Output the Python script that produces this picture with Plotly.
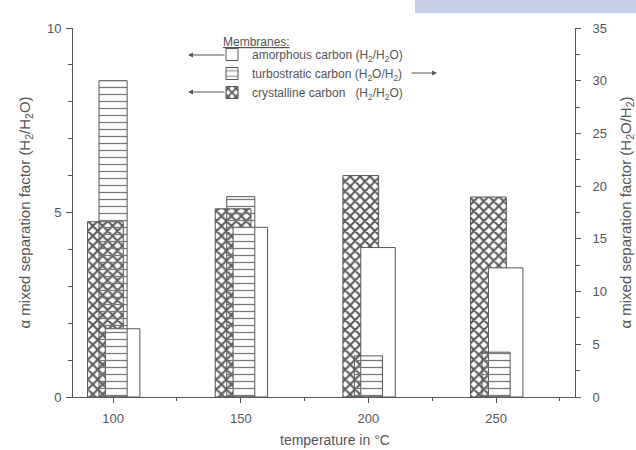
import plotly.graph_objects as go

# ---- data ----
temperatures = [100, 150, 200, 250]
amorphous = [1.85, 4.6, 4.05, 3.5]        # H2/H2O, left axis
turbostratic = [30.0, 19.0, 3.9, 4.25]    # H2O/H2, right axis
crystalline = [4.75, 5.1, 6.0, 5.42]      # H2/H2O, left axis

x_ticks = [100, 150, 200, 250]
x_minor = [125, 175, 225, 275]
left_ticks = [0, 5, 10]
right_ticks = [0, 5, 10, 15, 20, 25, 30, 35]

names = {
    "amorphous": "amorphous carbon (H<sub>2</sub>/H<sub>2</sub>O)",
    "turbostratic": "turbostratic carbon (H<sub>2</sub>O/H<sub>2</sub>)",
    "crystalline": "crystalline carbon   (H<sub>2</sub>/H<sub>2</sub>O)",
}

INK = "#555555"
FONT = "Liberation Sans, Arial, sans-serif"
W, H = 636, 450
L, R, T, B = 73, 61, 28, 53
PW, PH = W - L - R, H - T - B


def px(xp):
    return (xp - L) / PW


def py(yp):
    return (H - B - yp) / PH


fig = go.Figure()

fig.add_trace(go.Bar(
    x=temperatures, y=crystalline, name=names["crystalline"], legendrank=3,
    offset=-10, width=14,
    marker=dict(color="white", line=dict(color=INK, width=1),
                pattern=dict(shape="x", size=7, solidity=0.5, fgcolor="#5a5a5a",
                             bgcolor="white", fillmode="replace")),
    yaxis="y",
))
fig.add_trace(go.Bar(
    x=temperatures, y=amorphous, name=names["amorphous"], legendrank=1,
    offset=-3, width=13.5,
    marker=dict(color="white", line=dict(color=INK, width=1)),
    yaxis="y",
))
fig.add_trace(go.Bar(
    x=temperatures, y=turbostratic, name=names["turbostratic"], legendrank=2,
    offset=-5.5, width=11,
    marker=dict(color="rgba(0,0,0,0)", line=dict(color=INK, width=1),
                pattern=dict(shape="-", size=7, solidity=0.18, fgcolor="#777777",
                             bgcolor="rgba(0,0,0,0)", fillmode="replace")),
    yaxis="y2",
))

axis_common = dict(showgrid=False, zeroline=False, showline=True, linecolor=INK,
                   linewidth=1, ticks="outside", tickcolor=INK,
                   tickfont=dict(family=FONT, size=13, color=INK),
                   automargin=False)

fig.update_layout(
    template="none",
    width=W, height=H,
    margin=dict(l=L, r=R, t=T, b=B, autoexpand=False),
    paper_bgcolor="white", plot_bgcolor="white",
    barmode="overlay",
    font=dict(family=FONT, size=12, color=INK),
    xaxis=dict(range=[84.3, 280.9], tickvals=x_ticks, ticklen=5, ticklabelstandoff=4,
               minor=dict(tickvals=x_minor, ticks="outside", ticklen=3, tickcolor=INK),
               **axis_common),
    yaxis=dict(range=[0, 10], tickvals=left_ticks, ticklen=6, ticklabelstandoff=2,
               minor=dict(dtick=1, ticks="outside", ticklen=4, tickcolor=INK),
               title=dict(text="α mixed separation factor (H<sub>2</sub>/H<sub>2</sub>O)",
                          font=dict(size=15, color=INK), standoff=12),
               **axis_common),
    yaxis2=dict(range=[0, 35], tickvals=right_ticks, overlaying="y", side="right",
                ticklen=5, ticklabelstandoff=9,
                minor=dict(dtick=2.5, ticks="outside", ticklen=4, tickcolor=INK),
                title=dict(text="α mixed separation factor (H<sub>2</sub>O/H<sub>2</sub>)",
                           font=dict(size=15, color=INK), standoff=16),
                **axis_common),
    legend=dict(x=px(212), y=py(40), xanchor="left", yanchor="top",
                bgcolor="rgba(0,0,0,0)", borderwidth=0,
                font=dict(size=12, color=INK), traceorder="normal"),
    showlegend=True,
)

annotations = [
    dict(text="temperature in °C", xref="paper", yref="paper", x=px(335), y=py(440),
         xanchor="center", yanchor="middle", showarrow=False, font=dict(size=14, color=INK)),
    dict(text="Membranes:", xref="paper", yref="paper", x=px(221), y=py(42),
         xanchor="left", yanchor="middle", showarrow=False,
         font=dict(size=12, color=INK, lineposition="under")),
]
for (xh, xt, yy) in [(188, 226, 55), (437, 410, 73), (188, 226, 92)]:
    annotations.append(dict(text="", xref="paper", yref="paper", x=px(xh), y=py(yy),
                            axref="pixel", ayref="pixel", ax=xt - xh, ay=0,
                            showarrow=True, arrowhead=2, arrowsize=1, arrowwidth=1,
                            arrowcolor=INK, standoff=0, startstandoff=0))
fig.update_layout(annotations=annotations)

fig.add_shape(type="rect", xref="paper", yref="paper", x0=px(415), x1=px(640),
              y0=py(13), y1=py(-2), fillcolor="#c6cde8", line=dict(width=0))

fig.write_html("out.html", config={"displayModeBar": False},
               post_script="document.body.style.margin='0';document.body.style.padding='0';")
